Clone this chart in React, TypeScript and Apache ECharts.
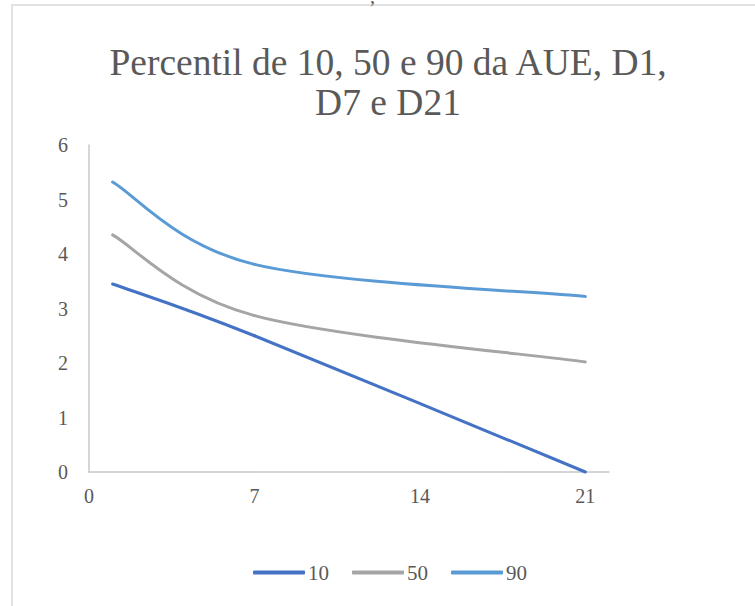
import React, { useEffect, useRef } from "react";
import * as echarts from "echarts";

const xDays = [1, 7, 21];
const p10 = [3.45, 2.5, 0];
const p50 = [4.35, 2.87, 2.02];
const p90 = [5.32, 3.81, 3.22];
const seriesNames = ["10", "50", "90"];
const colors = ["#4472C4", "#A5A5A5", "#5B9BD5"];
const titleText = "Percentil de 10, 50 e 90 da AUE, D1,\nD7 e D21";

const FONT = "'Liberation Serif', 'Times New Roman', serif";

function makeRenderItem(values: number[]) {
  return (params: any, api: any) => {
    const i = params.dataIndex;
    if (i === 0) return null;
    const pt = (k: number) => {
      const kk = Math.max(0, Math.min(values.length - 1, k));
      return api.coord([xDays[kk], values[kk]]);
    };
    const p0 = pt(i - 2);
    const p1 = pt(i - 1);
    const p2 = pt(i);
    const p3 = pt(i + 1);
    const c1 = [p1[0] + (p2[0] - p0[0]) / 6, p1[1] + (p2[1] - p0[1]) / 6];
    const c2 = [p2[0] - (p3[0] - p1[0]) / 6, p2[1] - (p3[1] - p1[1]) / 6];
    return {
      type: "bezierCurve",
      shape: {
        x1: p1[0],
        y1: p1[1],
        cpx1: c1[0],
        cpy1: c1[1],
        cpx2: c2[0],
        cpy2: c2[1],
        x2: p2[0],
        y2: p2[1],
      },
      style: {
        fill: "none",
        stroke: api.visual("color"),
        lineWidth: 3,
        lineCap: "round",
      },
    };
  };
}

export default function App() {
  const ref = useRef<HTMLDivElement>(null);
  useEffect(() => {
    if (!ref.current) return;
    const chart = echarts.init(ref.current, null, { renderer: "svg" });
    const all = [p10, p50, p90];
    chart.setOption({
      animation: false,
      backgroundColor: "#ffffff",
      title: {
        text: titleText,
        left: 388,
        top: 42,
        padding: 0,
        textAlign: "center",
        textStyle: {
          fontFamily: FONT,
          fontSize: 37.5,
          fontWeight: "normal",
          color: "#595959",
          lineHeight: 40,
        },
      },
      graphic: [
        {
          type: "rect",
          shape: { x: 12, y: 5, width: 800, height: 700 },
          style: { fill: "none", stroke: "#d9d9d9", lineWidth: 1.5 },
          silent: true,
        },
        {
          type: "text",
          x: 370,
          y: -14,
          style: { text: ",", font: "20px " + FONT, fill: "#595959" },
        },
      ],
      legend: {
        left: 253,
        top: 562,
        padding: 0,
        icon: "roundRect",
        itemWidth: 52,
        itemHeight: 4,
        itemGap: 23,
        textStyle: { fontFamily: FONT, fontSize: 21, color: "#595959", padding: [0, 0, 0, -2] },
        data: seriesNames,
      },
      grid: { left: 89, top: 145, right: 146, bottom: 134 },
      xAxis: {
        type: "value",
        min: 0,
        max: 22,
        interval: 7,
        axisLine: { show: true, lineStyle: { color: "#c8c8c8", width: 1.5 } },
        axisTick: { show: false },
        splitLine: { show: false },
        axisLabel: {
          showMaxLabel: false,
          margin: 14,
          fontFamily: FONT,
          fontSize: 20,
          color: "#595959",
        },
      },
      yAxis: {
        type: "value",
        min: 0,
        max: 6,
        interval: 1,
        axisLine: { show: true, lineStyle: { color: "#c8c8c8", width: 1.5 } },
        axisTick: { show: false },
        splitLine: { show: false },
        axisLabel: {
          margin: 21,
          fontFamily: FONT,
          fontSize: 20,
          color: "#595959",
        },
      },
      series: seriesNames.map((name, i) => ({
        name,
        type: "custom",
        renderItem: makeRenderItem(all[i]),
        data: xDays.map((x, j) => [x, all[i][j]]),
        encode: { x: 0, y: 1 },
        itemStyle: { color: colors[i] },
      })),
    });
    return () => chart.dispose();
  }, []);
  return (
    <div
      ref={ref}
      style={{ position: "fixed", left: 0, top: 0, width: 755, height: 606 }}
    />
  );
}
